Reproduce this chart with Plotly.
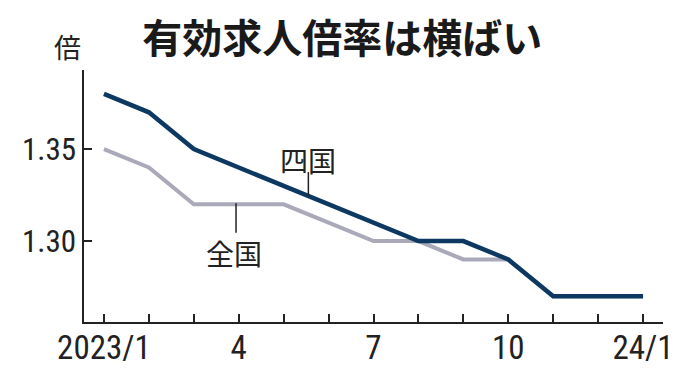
import plotly.graph_objects as go

months = list(range(13))
month_labels = ["2023/1", "", "", "4", "", "", "7", "", "", "10", "", "", "24/1"]
shikoku = [1.38, 1.37, 1.35, 1.34, 1.33, 1.32, 1.31, 1.30, 1.30, 1.29, 1.27, 1.27, 1.27]
zenkoku = [1.35, 1.34, 1.32, 1.32, 1.32, 1.31, 1.30, 1.30, 1.29, 1.29, 1.27, 1.27, 1.27]
y_ticks = [1.30, 1.35]
y_labels = ["1.30", "1.35"]

NAVY = "#0d3862"
GRAY = "#a9a9b9"
NARROW = "Liberation Sans Narrow, Roboto Condensed, DejaVu Sans Condensed, sans-serif"
XTICKFONT = dict(family=NARROW, size=33, color="#222222")
YTICKFONT = dict(family=NARROW, size=31, color="#222222")
JP = "Noto Sans CJK JP, sans-serif"

fig = go.Figure()
fig.add_trace(go.Scatter(x=months, y=zenkoku, mode="lines",
                         line=dict(color=GRAY, width=4), showlegend=False, hoverinfo="skip"))
fig.add_trace(go.Scatter(x=months, y=shikoku, mode="lines",
                         line=dict(color=NAVY, width=4.5), showlegend=False, hoverinfo="skip"))

# page body has an 8px default margin, so the figure is sized/offset to compensate
fig.update_layout(
    width=671, height=372,
    margin=dict(l=76, r=16, t=62, b=58),
    paper_bgcolor="white", plot_bgcolor="white",
    title=dict(text="<b>有効求人倍率は横ばい</b>", x=0.498, xanchor="center",
               y=0.918, yanchor="middle",
               font=dict(family=JP, size=40, color="#1a1a1a")),
    xaxis=dict(range=[-0.444, 12.444], tickvals=months, ticktext=month_labels,
               ticks="inside", ticklen=8, tickwidth=1.5, tickcolor="#222",
               showline=True, linecolor="#222", linewidth=1.5, automargin=False,
               ticklabelstandoff=-4,
               showgrid=False, zeroline=False, tickfont=XTICKFONT, fixedrange=True),
    yaxis=dict(range=[1.256, 1.393], tickvals=y_ticks, ticktext=y_labels,
               ticks="inside", ticklen=8, tickwidth=1.5, tickcolor="#222",
               showline=True, linecolor="#222", linewidth=1.5, automargin=False,
               showgrid=False, zeroline=False, tickfont=YTICKFONT, fixedrange=True),
)

# unit label
fig.add_annotation(text="倍", xref="paper", yref="paper", x=-0.029, y=1.0, yshift=24,
                   xanchor="center", yanchor="middle", showarrow=False,
                   font=dict(family=JP, size=27, color="#222"))

# series labels with leader lines
fig.add_annotation(text="四国", x=4.55, y=1.344, xref="x", yref="y",
                   xanchor="center", yanchor="middle", showarrow=False,
                   font=dict(family=JP, size=28, color="#222"))
fig.add_shape(type="line", x0=4.55, x1=4.55, y0=1.3375, y1=1.3245, xref="x", yref="y",
              line=dict(color="#222", width=1.5))
fig.add_annotation(text="全国", x=2.9, y=1.2935, xref="x", yref="y",
                   xanchor="center", yanchor="middle", showarrow=False,
                   font=dict(family=JP, size=28, color="#222"))
fig.add_shape(type="line", x0=2.94, x1=2.94, y0=1.3205, y1=1.3045, xref="x", yref="y",
              line=dict(color="#222", width=1.5))

fig.write_html("out.html")
